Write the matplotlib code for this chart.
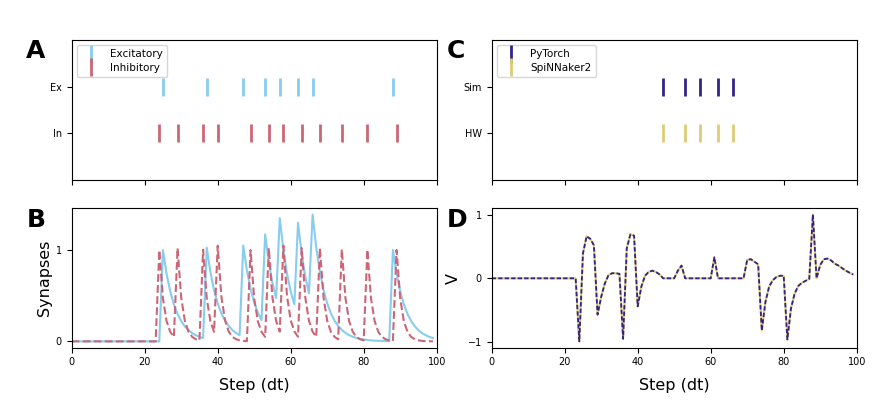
import numpy as np
import matplotlib
matplotlib.use("Agg")
import matplotlib.pyplot as plt

# spike times (steps)
exc_spikes = [25, 37, 47, 53, 57, 62, 66, 88]
inh_spikes = [24, 29, 36, 40, 49, 54, 58, 63, 68, 74, 81, 89]
sim_spikes = [47, 53, 57, 62, 66]
hw_spikes = [47, 53, 57, 62, 66]

steps = list(range(100))

# synapse traces
syn_exc = [0.0] * 25 + [
    1.000, 0.740, 0.548, 0.405, 0.300, 0.222, 0.164, 0.122, 0.090, 0.067, 0.049, 0.036,   # 25-36
    1.027, 0.760, 0.562, 0.416, 0.308, 0.228, 0.169, 0.125, 0.092, 0.068,                 # 37-46
    1.051, 0.778, 0.576, 0.426, 0.315, 0.233,                                             # 47-52
    1.173, 0.868, 0.642, 0.475,                                                           # 53-56
    1.352, 1.000, 0.740, 0.548, 0.406,                                                    # 57-61
    1.300, 0.962, 0.712, 0.527,                                                           # 62-65
    1.390, 1.029, 0.761, 0.563, 0.417, 0.308, 0.228, 0.169, 0.125, 0.093, 0.068,          # 66-76
    0.051, 0.038, 0.028, 0.021, 0.015, 0.011, 0.008, 0.006, 0.005, 0.003, 0.003,          # 77-87
    1.002, 0.741, 0.549, 0.406, 0.300, 0.222, 0.165, 0.122, 0.090, 0.067, 0.049, 0.036,   # 88-99
]
syn_inh = [0.0] * 24 + [
    1.000, 0.470, 0.221, 0.104, 0.049,                                                    # 24-28
    1.023, 0.481, 0.226, 0.106, 0.050, 0.023, 0.011,                                      # 29-35
    1.005, 0.472, 0.222, 0.104,                                                           # 36-39
    1.049, 0.493, 0.232, 0.109, 0.051, 0.024, 0.011, 0.005, 0.002,                        # 40-48
    1.001, 0.470, 0.221, 0.104, 0.049,                                                    # 49-53
    1.023, 0.481, 0.226, 0.106,                                                           # 54-57
    1.050, 0.493, 0.232, 0.109, 0.051,                                                    # 58-62
    1.024, 0.481, 0.226, 0.106, 0.050,                                                    # 63-67
    1.023, 0.481, 0.226, 0.106, 0.050, 0.023,                                             # 68-73
    1.011, 0.475, 0.223, 0.105, 0.049, 0.023, 0.011,                                     # 74-80
    1.005, 0.472, 0.222, 0.104, 0.049, 0.023, 0.011, 0.005,                               # 81-88
    1.002, 0.471, 0.221, 0.104, 0.049, 0.023, 0.011, 0.005, 0.002, 0.001, 0.001,          # 89-99
]

# membrane voltage
v_sim = [0.0] * 24 + [
    -0.99, 0.39, 0.66, 0.62, 0.52, -0.57, -0.29, -0.08, 0.05, 0.08, 0.08, 0.07,           # 24-35
    -0.95, 0.47, 0.69, 0.67, -0.44, -0.13, 0.04, 0.10, 0.12, 0.10, 0.06,                  # 36-46
    0.0, 0.0, 0.0, 0.0, 0.12, 0.20, 0.0,                                                  # 47-53
    0.0, 0.0, 0.0, 0.0, 0.0, 0.0, 0.0, 0.33, 0.0,                                         # 54-62
    0.0, 0.0, 0.0, 0.0, 0.0, 0.0, 0.0,                                                    # 63-69
    0.29, 0.30, 0.26, 0.22, -0.82, -0.37, -0.13, -0.03, 0.02, 0.04, 0.04,                 # 70-80
    -0.96, -0.47, -0.24, -0.12, -0.07, -0.04, -0.01,                                      # 81-87
    1.00, 0.0, 0.21, 0.30, 0.31, 0.28, 0.23, 0.20, 0.16, 0.12, 0.09, 0.06,                # 88-99
]
v_hw = list(v_sim)

c_exc = "#88CCEE"
c_inh = "#CC6677"
c_sim = "#332288"
c_hw = "#DDCC77"

fig = plt.figure(figsize=(8.9, 4.2), dpi=100)
W, H = 890, 420

def add_ax(x0, y0, x1, y1):
    return fig.add_axes([x0 / W, 1 - y1 / H, (x1 - x0) / W, (y1 - y0) / H])

axA = add_ax(71.7, 40, 436.7, 180)
axB = add_ax(71.7, 208.3, 436.7, 347.7)
axC = add_ax(491.7, 40, 856.7, 180)
axD = add_ax(491.7, 208.3, 856.7, 347.7)

ms, mew = 12.5, 2
tick_fs = 7

# A: input raster
axA.plot(exc_spikes, [1] * len(exc_spikes), ls="none", marker="|", ms=ms, mew=mew,
         color=c_exc, label="Excitatory")
axA.plot(inh_spikes, [0] * len(inh_spikes), ls="none", marker="|", ms=ms, mew=mew,
         color=c_inh, label="Inhibitory")
axA.set_yticks([1, 0])
axA.set_yticklabels(["Ex", "In"])
axA.set_ylim(-1, 2)

# C: output raster
axC.plot(sim_spikes, [1] * len(sim_spikes), ls="none", marker="|", ms=ms, mew=mew,
         color=c_sim, label="PyTorch")
axC.plot(hw_spikes, [0] * len(hw_spikes), ls="none", marker="|", ms=ms, mew=mew,
         color=c_hw, label="SpiNNaker2")
axC.set_yticks([1, 0])
axC.set_yticklabels(["Sim", "HW"])
axC.set_ylim(-1, 2)

for ax in (axA, axC):
    ax.set_xlim(0, 100)
    ax.set_xticks(range(0, 101, 20))
    ax.set_xticklabels([])
    ax.tick_params(labelsize=tick_fs)
    ax.legend(loc="upper left", fontsize=7.5, numpoints=1, handlelength=2.0,
              borderaxespad=0.5, labelspacing=0.35)

# B: synapse traces
axB.plot(steps, syn_exc, color=c_exc, lw=1.5)
axB.plot(steps, syn_inh, color=c_inh, lw=1.5, ls="--")
axB.set_yticks([0, 1])
axB.set_ylabel("Synapses", fontsize=11.5)
axB.yaxis.set_label_coords(-0.054, 0.5)

# D: voltage
axD.plot(steps, v_hw, color=c_hw, lw=1.5)
axD.plot(steps, v_sim, color=c_sim, lw=1.3, ls=(0, (2.4, 1.2)))
axD.set_yticks([-1, 0, 1])
axD.set_ylabel("V", fontsize=11.5)
axD.yaxis.set_label_coords(-0.085, 0.5)

for ax in (axB, axD):
    ax.set_xlim(0, 100)
    ax.set_xticks(range(0, 101, 20))
    ax.tick_params(labelsize=tick_fs)
    ax.set_xlabel("Step (dt)", fontsize=11.5)
    ax.xaxis.set_label_coords(0.5, -0.215)
    ax.xaxis.label.set_va("top")

# panel letters
for letter, x, y in [("A", 36, 57.7), ("B", 36.5, 226.7), ("C", 455.5, 58), ("D", 457, 227)]:
    fig.text(x / W, 1 - y / H, letter, fontsize=18, fontweight="bold",
             ha="center", va="baseline")

fig.savefig("out.png", dpi=100)
